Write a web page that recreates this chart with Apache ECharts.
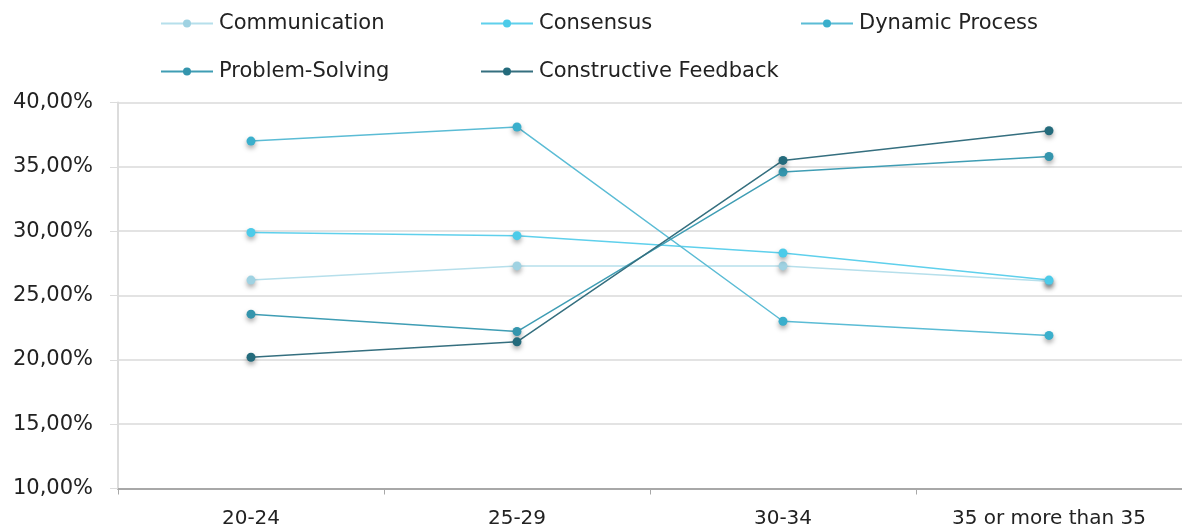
<!DOCTYPE html>
<html>
<head>
<meta charset="utf-8">
<script src="https://cdn.jsdelivr.net/npm/echarts@6/dist/echarts.min.js"></script>
<style>
  html, body { margin: 0; padding: 0; background: #fff; }
  #chart { width: 1182px; height: 531px; }
</style>
</head>
<body>
<div id="chart"></div>
<script>
// Age groups on the x axis
const categories = ['20-24', '25-29', '30-34', '35 or more than 35'];

// Share of respondents (%) per age group
const communication = [26.2, 27.3, 27.3, 26.1];
const consensus = [29.9, 29.65, 28.3, 26.2];
const dynamicProcess = [37.0, 38.1, 23.0, 21.9];
const problemSolving = [23.55, 22.2, 34.6, 35.8];
const constructiveFeedback = [20.2, 21.4, 35.5, 37.8];

const seriesNames = ['Communication', 'Consensus', 'Dynamic Process', 'Problem-Solving', 'Constructive Feedback'];
const seriesValues = [communication, consensus, dynamicProcess, problemSolving, constructiveFeedback];
const markerColors = ['#9fd2e2', '#4ccbe9', '#3aafcc', '#3495ad', '#246b7c'];
const lineColors = ['#b6dfeb', '#5fd0ec', '#5bbcd5', '#3f9db4', '#356f7f'];

const FONT = 'DejaVu Sans, Verdana, sans-serif';

// Legend laid out as a fixed grid: three slots in the first row, two in the second
const legendSlots = [
  { left: 160, top: 13 },
  { left: 480, top: 13 },
  { left: 800, top: 13 },
  { left: 160, top: 61 },
  { left: 480, top: 61 }
];

const chart = echarts.init(document.getElementById('chart'), null, { renderer: 'canvas' });

chart.setOption({
  animation: false,
  backgroundColor: '#fff',
  legend: seriesNames.map((name, i) => ({
    data: [name],
    left: legendSlots[i].left,
    top: legendSlots[i].top,
    itemWidth: 52,
    itemHeight: 10,
    itemGap: 0,
    padding: 0,
    selectedMode: false,
    textStyle: { fontFamily: FONT, fontSize: 21, color: '#222', padding: [0, 0, 0, 1] }
  })),
  grid: { left: 118, right: 0, top: 102.5, bottom: 42.5, containLabel: false },
  xAxis: {
    type: 'category',
    data: categories,
    boundaryGap: true,
    axisLine: { lineStyle: { color: '#a8a8a8', width: 2 } },
    axisTick: { show: true, alignWithLabel: false, length: 6, lineStyle: { color: '#a8a8a8', width: 1 } },
    axisLabel: { fontFamily: FONT, fontSize: 20, color: '#222', margin: 20 },
    splitLine: { show: false }
  },
  yAxis: {
    type: 'value',
    min: 10,
    max: 40,
    interval: 5,
    axisLine: { show: true, lineStyle: { color: '#dcdcdc', width: 2 } },
    axisTick: { show: true, length: 8, lineStyle: { color: '#dcdcdc', width: 1 } },
    axisLabel: {
      fontFamily: FONT, fontSize: 21, color: '#222', margin: 25,
      formatter: v => v.toFixed(2).replace('.', ',') + '%'
    },
    splitLine: { show: true, lineStyle: { color: '#e3e3e3', width: 2 } }
  },
  series: seriesNames.map((name, i) => ({
    name: name,
    type: 'line',
    data: seriesValues[i],
    symbol: 'circle',
    symbolSize: 9,
    showSymbol: true,
    lineStyle: { color: lineColors[i], width: 1.5 },
    itemStyle: {
      color: markerColors[i],
      shadowColor: 'rgba(0,0,0,0.35)',
      shadowBlur: 5,
      shadowOffsetY: 3
    },
    emphasis: { disabled: true }
  }))
});
</script>
</body>
</html>
